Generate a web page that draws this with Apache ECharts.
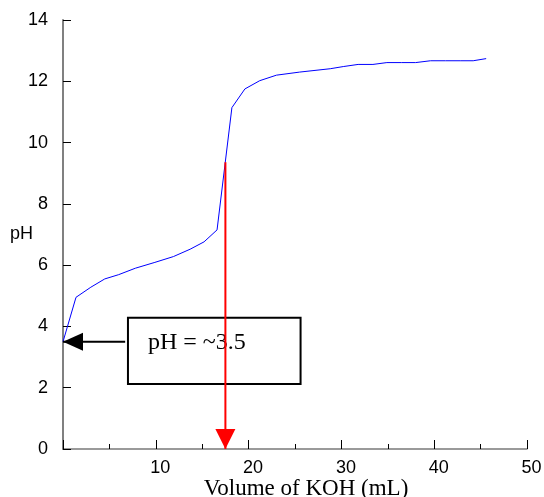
<!DOCTYPE html>
<html>
<head>
<meta charset="utf-8">
<script src="https://cdn.jsdelivr.net/npm/echarts@6/dist/echarts.min.js"></script>
<style>
html,body{margin:0;padding:0;background:#fff;}
#chart{width:544px;height:497px;}
</style>
</head>
<body>
<div id="chart"></div>
<script>
// Titration curve data (volume of KOH in mL, pH)
var volume = [0, 1.4, 3.0, 4.5, 6.0, 7.8, 9.9, 11.9, 13.7, 15.2, 16.6, 18.2, 19.6, 21.2, 23.0, 25.5, 28.8, 30.2, 31.8, 33.4, 34.9, 36.5, 38.0, 39.6, 41.2, 42.8, 44.2, 45.6];
var pH = [3.5, 4.95, 5.28, 5.55, 5.69, 5.9, 6.09, 6.28, 6.52, 6.76, 7.15, 11.14, 11.75, 12.02, 12.2, 12.3, 12.41, 12.48, 12.55, 12.55, 12.61, 12.61, 12.61, 12.67, 12.67, 12.67, 12.67, 12.74];

// Annotations (data coordinates)
var equivVolume = 17.5;     // red arrow x
var equivTopPH = 9.36;      // red arrow top
var initialPH = 3.5;        // black arrow target
var boxFrom = [7.0, 4.28];  // annotation box corners
var boxTo = [25.6, 2.12];
var boxArrowStart = 6.7;
var boxText = 'pH = ~3.5';

var xTicks = [0, 10, 20, 30, 40, 50];
var yTicks = [0, 2, 4, 6, 8, 10, 12, 14];

var curve = volume.map(function (v, i) { return [v, pH[i]]; });

var chart = echarts.init(document.getElementById('chart'), null, {renderer: 'canvas'});
chart.setOption({
  animation: false,
  backgroundColor: '#fff',
  grid: {left: 63, right: 17, top: 20, bottom: 48, containLabel: false, outerBoundsMode: 'none'},
  xAxis: {
    type: 'value', min: xTicks[0], max: xTicks[xTicks.length - 1], interval: 10,
    name: 'Volume of KOH (mL)', nameLocation: 'middle', nameGap: 28, nameMoveOverlap: false,
    nameTextStyle: {fontFamily: 'Liberation Serif', fontSize: 23, color: '#000', align: 'center', verticalAlign: 'top', padding: [0, 0, 0, 22]},
    axisLine: {lineStyle: {color: '#7a7a7a', width: 1.5}},
    axisTick: {inside: true, length: 9, lineStyle: {color: '#000', width: 1}},
    minorTick: {show: true, splitNumber: 2, length: 5, lineStyle: {color: '#000', width: 1}},
    axisLabel: {fontFamily: 'Liberation Sans', fontSize: 18, color: '#000', margin: 10, padding: [0, 0, 0, 9],
      formatter: function (v) { return v === 0 ? '' : String(v); }},
    splitLine: {show: false}
  },
  yAxis: {
    type: 'value', min: yTicks[0], max: yTicks[yTicks.length - 1], interval: 2,
    name: 'pH', nameLocation: 'middle', nameGap: 30, nameRotate: 0, nameMoveOverlap: false,
    nameTextStyle: {fontFamily: 'Liberation Sans', fontSize: 18, color: '#000', verticalAlign: 'middle', padding: [4, 0, 0, 0]},
    axisLine: {lineStyle: {color: '#808080', width: 2}},
    axisTick: {inside: true, length: 8, lineStyle: {color: '#000', width: 1}},
    axisLabel: {fontFamily: 'Liberation Sans', fontSize: 18, color: '#000', margin: 15},
    splitLine: {show: false}
  },
  series: [
    {
      type: 'line', data: curve, symbol: 'none', silent: true,
      lineStyle: {color: '#0000ff', width: 1}
    },
    {
      type: 'line', data: [[0, initialPH], [boxArrowStart, initialPH]], symbol: 'none', silent: true,
      lineStyle: {color: '#000', width: 2},
      markArea: {
        silent: true,
        itemStyle: {color: 'rgba(0,0,0,0)', borderColor: '#000', borderWidth: 2},
        label: {show: true, position: [21, 14], fontFamily: 'Liberation Serif', fontSize: 24, color: '#000'},
        data: [[{coord: boxFrom, name: boxText}, {coord: boxTo}]]
      }
    },
    {
      type: 'scatter', data: [[0, initialPH]], silent: true,
      symbol: 'path://M0,9L20,0L20,18Z', symbolSize: [20, 18], symbolOffset: [10, 0],
      itemStyle: {color: '#000', opacity: 1}
    },
    {
      type: 'line', data: [[equivVolume, equivTopPH], [equivVolume, 0]], symbol: 'none', silent: true,
      lineStyle: {color: '#ff0000', width: 2}
    },
    {
      type: 'scatter', data: [[equivVolume, 0]], silent: true,
      symbol: 'path://M0,0L20,0L10,20Z', symbolSize: [20, 20], symbolOffset: [0, -10],
      itemStyle: {color: '#ff0000', opacity: 1}
    }
  ]
});
</script>
</body>
</html>
